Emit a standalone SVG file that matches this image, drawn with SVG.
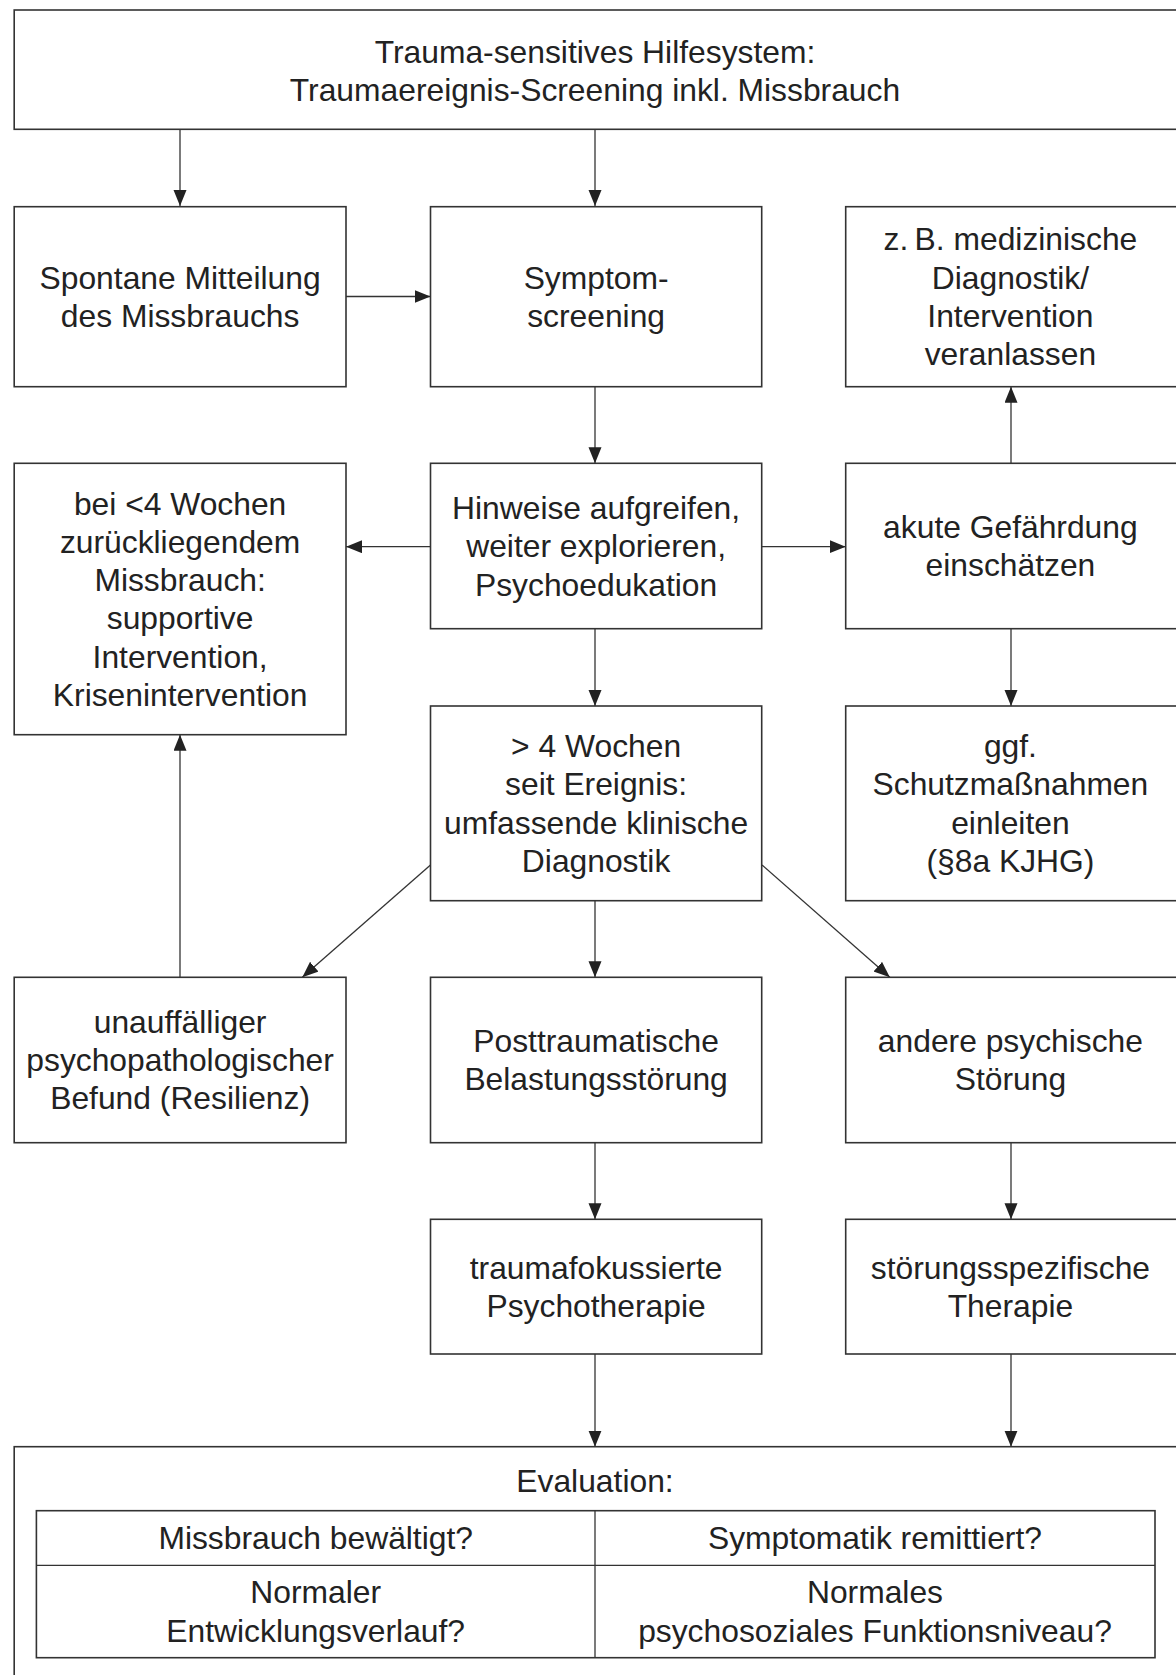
<svg xmlns="http://www.w3.org/2000/svg" width="1176" height="1675" viewBox="0 0 1176 1675">
<defs>
<marker id="ah" markerUnits="userSpaceOnUse" markerWidth="18" markerHeight="14" refX="16" refY="6.5" orient="auto">
<path d="M0,0 L16,6.5 L0,13 z" fill="#222"/>
</marker>
<style>
.box{fill:#fff;stroke:#333;stroke-width:1.6}
.ln{fill:none;stroke:#333;stroke-width:1.3}
.c{stroke:#333;stroke-width:1.3;fill:none;marker-end:url(#ah)}
text{font-family:"Liberation Sans",Arial,Helvetica,sans-serif;font-size:31.8px;fill:#222;text-anchor:middle}
</style>
</defs>
<rect width="1176" height="1675" fill="#fff"/>

<g id="connectors">
<line class="c" x1="180" y1="129.3" x2="180" y2="206"/>
<line class="c" x1="595" y1="129.3" x2="595" y2="206"/>
<line class="c" x1="346" y1="296.5" x2="430.5" y2="296.5"/>
<line class="c" x1="595" y1="386.7" x2="595" y2="463.3"/>
<line class="c" x1="1011" y1="463.3" x2="1011" y2="386.7"/>
<line class="c" x1="430.5" y1="546.7" x2="346" y2="546.7"/>
<line class="c" x1="761.7" y1="546.7" x2="845.7" y2="546.7"/>
<line class="c" x1="595" y1="628.7" x2="595" y2="706"/>
<line class="c" x1="1011" y1="628.7" x2="1011" y2="706"/>
<line class="c" x1="430.5" y1="865" x2="302.3" y2="977.3"/>
<line class="c" x1="595" y1="900.7" x2="595" y2="977.3"/>
<line class="c" x1="762" y1="865" x2="889.8" y2="977.3"/>
<line class="c" x1="180" y1="977.3" x2="180" y2="734.7"/>
<line class="c" x1="595" y1="1142.7" x2="595" y2="1219.3"/>
<line class="c" x1="1011" y1="1142.7" x2="1011" y2="1219.3"/>
<line class="c" x1="595" y1="1354" x2="595" y2="1446.7"/>
<line class="c" x1="1011" y1="1354" x2="1011" y2="1446.7"/>
</g>

<g id="top">
<rect class="box" x="14.2" y="10" width="1172" height="119.3"/>
<text x="595" y="63">Trauma-sensitives Hilfesystem:</text>
<text x="595" y="100.5">Traumaereignis-Screening inkl. Missbrauch</text>
</g>

<g id="spontan">
<rect class="box" x="14.2" y="206.7" width="331.8" height="180"/>
<text x="180.1" y="288.5">Spontane Mitteilung</text>
<text x="180.1" y="326.8">des Missbrauchs</text>
</g>

<g id="symptom">
<rect class="box" x="430.5" y="206.7" width="331.2" height="180"/>
<text x="596.1" y="288.5">Symptom-</text>
<text x="596.1" y="326.8">screening</text>
</g>

<g id="medizin">
<rect class="box" x="845.7" y="206.7" width="340" height="180"/>
<text x="1010.4" y="250.2">z.&#8201;B. medizinische</text>
<text x="1010.4" y="288.5">Diagnostik/</text>
<text x="1010.4" y="326.8">Intervention</text>
<text x="1010.4" y="365.1">veranlassen</text>
</g>

<g id="supportiv">
<rect class="box" x="14.2" y="463.3" width="331.8" height="271.4"/>
<text x="180.1" y="514.5">bei &lt;4 Wochen</text>
<text x="180.1" y="552.8">zurückliegendem</text>
<text x="180.1" y="591.1">Missbrauch:</text>
<text x="180.1" y="629.4">supportive</text>
<text x="180.1" y="667.7">Intervention,</text>
<text x="180.1" y="706">Krisenintervention</text>
</g>

<g id="hinweise">
<rect class="box" x="430.5" y="463.3" width="331.2" height="165.4"/>
<text x="596.1" y="519">Hinweise aufgreifen,</text>
<text x="596.1" y="557.3">weiter explorieren,</text>
<text x="596.1" y="595.6">Psychoedukation</text>
</g>

<g id="gefaehrdung">
<rect class="box" x="845.7" y="463.3" width="340" height="165.4"/>
<text x="1010.4" y="538">akute Gefährdung</text>
<text x="1010.4" y="576.3">einschätzen</text>
</g>

<g id="diagnostik">
<rect class="box" x="430.5" y="706" width="331.2" height="194.7"/>
<text x="596.1" y="757">&gt; 4 Wochen</text>
<text x="596.1" y="795.3">seit Ereignis:</text>
<text x="596.1" y="833.6">umfassende klinische</text>
<text x="596.1" y="871.9">Diagnostik</text>
</g>

<g id="schutz">
<rect class="box" x="845.7" y="706" width="340" height="194.7"/>
<text x="1010.4" y="757">ggf.</text>
<text x="1010.4" y="795.3">Schutzmaßnahmen</text>
<text x="1010.4" y="833.6">einleiten</text>
<text x="1010.4" y="871.9">(§8a KJHG)</text>
</g>

<g id="unauffaellig">
<rect class="box" x="14.2" y="977.3" width="331.8" height="165.4"/>
<text x="180.1" y="1032.8">unauffälliger</text>
<text x="180.1" y="1071.1">psychopathologischer</text>
<text x="180.1" y="1109.4">Befund (Resilienz)</text>
</g>

<g id="ptbs">
<rect class="box" x="430.5" y="977.3" width="331.2" height="165.4"/>
<text x="596.1" y="1052">Posttraumatische</text>
<text x="596.1" y="1090.3">Belastungsstörung</text>
</g>

<g id="andere">
<rect class="box" x="845.7" y="977.3" width="340" height="165.4"/>
<text x="1010.4" y="1052">andere psychische</text>
<text x="1010.4" y="1090.3">Störung</text>
</g>

<g id="traumafokus">
<rect class="box" x="430.5" y="1219.3" width="331.2" height="134.7"/>
<text x="596.1" y="1278.5">traumafokussierte</text>
<text x="596.1" y="1316.8">Psychotherapie</text>
</g>

<g id="stoerungsspez">
<rect class="box" x="845.7" y="1219.3" width="340" height="134.7"/>
<text x="1010.4" y="1278.5">störungsspezifische</text>
<text x="1010.4" y="1316.8">Therapie</text>
</g>

<g id="evaluation">
<rect class="box" x="14.2" y="1446.7" width="1172" height="250"/>
<text x="595" y="1491.7">Evaluation:</text>
<rect class="box" x="36.4" y="1510.7" width="1118.6" height="147"/>
<line class="ln" x1="36.4" y1="1565.3" x2="1155" y2="1565.3"/>
<line class="ln" x1="595" y1="1510.7" x2="595" y2="1657.7"/>
<text x="315.7" y="1549.3">Missbrauch bewältigt?</text>
<text x="875" y="1549.3">Symptomatik remittiert?</text>
<text x="315.7" y="1603.3">Normaler</text>
<text x="315.7" y="1641.7">Entwicklungsverlauf?</text>
<text x="875" y="1603.3">Normales</text>
<text x="875" y="1641.7">psychosoziales Funktionsniveau?</text>
</g>
</svg>
